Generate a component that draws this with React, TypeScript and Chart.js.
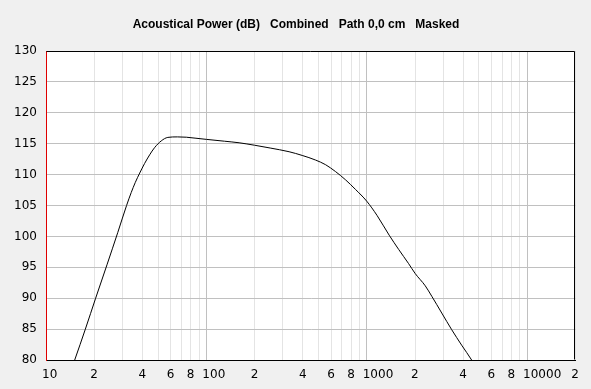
import React, { useEffect, useRef } from "react";
import { Chart, registerables } from "chart.js";

Chart.register(...registerables);

const TITLE = "Acoustical Power (dB)   Combined   Path 0,0 cm   Masked";

// Frequency (Hz) and acoustical power (dB)
const freqs = [14, 15.1, 17.6, 20.4, 24, 28, 31.8, 34, 36, 38.4, 41.2, 44.3, 47.5, 52.3, 57.5, 66, 75, 85, 100, 130, 160, 200, 250, 328, 396, 480, 554, 638, 738, 851, 1000, 1159, 1380, 1581, 1824, 2004, 2318, 2547, 2937, 3388, 3908, 4510, 4800];
const power = [77.6, 80, 85, 90, 95.4, 100.6, 105, 107.1, 108.7, 110.25, 111.8, 113.2, 114.35, 115.45, 116.02, 116.1, 116.05, 115.9, 115.7, 115.4, 115.15, 114.75, 114.3, 113.7, 113.1, 112.35, 111.6, 110.5, 109.15, 107.6, 105.7, 103.4, 100.2, 97.9, 95.6, 94.0, 92.0, 90.3, 87.6, 84.9, 82.4, 80, 78.8];

// Grid positions of the log axis (decades 10..10000 and their multiples)
const decades = [10, 100, 1000, 10000];
const multiples = [1, 2, 3, 4, 5, 6, 7, 8, 9];
const xMin = 10;
const xMax = 20000;

// Labelled x ticks
const xLabelValues = [10, 20, 40, 60, 80, 100, 200, 400, 600, 800, 1000, 2000, 4000, 6000, 8000, 10000, 20000];
const xLabelTexts = ["10", "2", "4", "6", "8", "100", "2", "4", "6", "8", "1000", "2", "4", "6", "8", "10000", "2"];

const yMin = 80;
const yMax = 130;
const yStep = 5;

export default function App() {
  const ref = useRef<HTMLCanvasElement | null>(null);

  useEffect(() => {
    const canvas = ref.current;
    if (!canvas) return;
    const gridValues: number[] = [];
    decades.forEach((d) => multiples.forEach((m) => {
      const v = d * m;
      if (v <= xMax) gridValues.push(v);
    }));

    const frame = {
      id: "frame",
      beforeDraw(chart: any) {
        const { ctx, chartArea } = chart;
        ctx.save();
        ctx.fillStyle = "#ffffff";
        ctx.fillRect(chartArea.left, chartArea.top, chartArea.right - chartArea.left, chartArea.bottom - chartArea.top);
        ctx.restore();
      },
      afterDraw(chart: any) {
        const { ctx, chartArea } = chart;
        const l = Math.round(chartArea.left) + 0.5;
        const r = Math.round(chartArea.right) - 0.5;
        const t = Math.round(chartArea.top) + 0.5;
        const b = Math.round(chartArea.bottom) - 0.5;
        ctx.save();
        ctx.strokeStyle = "#000000";
        ctx.lineWidth = 1;
        ctx.beginPath();
        ctx.moveTo(l, t);
        ctx.lineTo(r, t);
        ctx.lineTo(r, b);
        ctx.stroke();
        ctx.font = "bold 12px 'Liberation Sans', Arial, sans-serif";
        ctx.fillStyle = "#000000";
        ctx.textAlign = "center";
        ctx.textBaseline = "middle";
        ctx.fillText(TITLE, 296, 25);
        ctx.restore();
      },
    };

    const chart = new Chart(canvas, {
      type: "line",
      data: {
        datasets: [
          {
            data: freqs.map((f, i) => ({ x: f, y: power[i] })),
            borderColor: "#000000",
            borderWidth: 1,
            pointRadius: 0,
            cubicInterpolationMode: "monotone",
            fill: false,
          },
        ],
      },
      options: {
        responsive: false,
        animation: false,
        events: [],
        layout: { padding: { top: 51, right: 13, left: 0, bottom: 0 } },
        plugins: { legend: { display: false }, tooltip: { enabled: false }, title: { display: false } },
        scales: {
          x: {
            type: "logarithmic",
            min: xMin,
            max: xMax,
            afterBuildTicks: (scale: any) => {
              scale.ticks = gridValues.map((v) => ({ value: v }));
            },
            afterFit: (scale: any) => {
              scale.height = 29;
            },
            grid: {
              drawTicks: false,
              color: (c: any) => {
                const v = c.tick ? c.tick.value : 0;
                return decades.includes(v) ? "#c0c0c0" : "#e4e4e4";
              },
              lineWidth: 1,
            },
            border: { color: "#000000", width: 1 },
            ticks: {
              autoSkip: false,
              maxRotation: 0,
              minRotation: 0,
              align: "start",
              labelOffset: -4,
              padding: 8,
              color: "#000000",
              font: { family: "'DejaVu Sans', Verdana, sans-serif", size: 12 },
              callback: (value: any) => {
                const idx = xLabelValues.indexOf(Number(value));
                return idx >= 0 ? xLabelTexts[idx] : "";
              },
            },
          },
          y: {
            type: "linear",
            min: yMin,
            max: yMax,
            afterFit: (scale: any) => {
              scale.width = 46;
            },
            grid: { drawTicks: false, color: "#c0c0c0", lineWidth: 1 },
            border: { color: "#e00000", width: 1 },
            ticks: {
              stepSize: yStep,
              padding: 9,
              color: "#000000",
              font: { family: "'DejaVu Sans', Verdana, sans-serif", size: 12 },
            },
          },
        },
      },
      plugins: [frame],
    } as any);
    return () => chart.destroy();
  }, []);

  return (
    <div style={{ position: "absolute", left: 0, top: 0, width: 591, height: 389, background: "#f0f0f0" }}>
      <canvas ref={ref} width={591} height={389} style={{ display: "block", width: 591, height: 389 }} />
    </div>
  );
}
